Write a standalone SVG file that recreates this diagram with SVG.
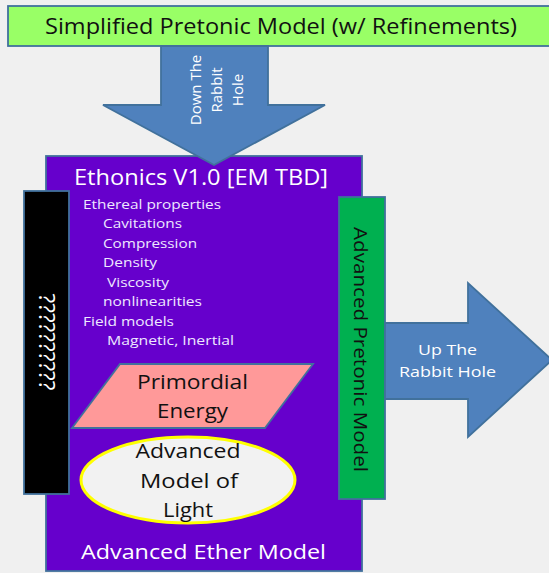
<svg xmlns="http://www.w3.org/2000/svg" width="549" height="573" viewBox="0 0 549 573">
<style>
text{font-family:"Open Sans","Liberation Sans",sans-serif}
.outline{stroke:#41719C;stroke-width:1.8}
.white{fill:#ffffff}
.list{fill:#EEE8FF;font-size:13px}
.dark{fill:#111111}
.arrow{fill:#4F81BD;stroke:#41719C;stroke-width:1.8}
</style>
<rect id="background" x="0" y="0" width="549" height="573" fill="#F0F0F0"/>
<g id="simplified-pretonic-model">
<rect class="outline" x="8" y="6" width="546" height="40" fill="#99FF66"/>
<text class="dark" x="281" y="34" font-size="22" text-anchor="middle" textLength="472" lengthAdjust="spacingAndGlyphs">Simplified Pretonic Model (w/ Refinements)</text>
</g>
<g id="advanced-ether-model">
<rect class="outline" x="46" y="156" width="316" height="415" fill="#6600CC"/>
<text class="white" x="201" y="185" font-size="22" text-anchor="middle" textLength="254" lengthAdjust="spacingAndGlyphs">Ethonics V1.0 [EM TBD]</text>
<text class="list" x="83" y="209" textLength="138" lengthAdjust="spacingAndGlyphs">Ethereal properties</text>
<text class="list" x="103" y="228" textLength="79" lengthAdjust="spacingAndGlyphs">Cavitations</text>
<text class="list" x="103" y="248" textLength="94" lengthAdjust="spacingAndGlyphs">Compression</text>
<text class="list" x="103" y="267" textLength="54" lengthAdjust="spacingAndGlyphs">Density</text>
<text class="list" x="107" y="287" textLength="62" lengthAdjust="spacingAndGlyphs">Viscosity</text>
<text class="list" x="103" y="306" textLength="99" lengthAdjust="spacingAndGlyphs">nonlinearities</text>
<text class="list" x="83" y="326" textLength="91" lengthAdjust="spacingAndGlyphs">Field models</text>
<text class="list" x="107" y="345" textLength="127" lengthAdjust="spacingAndGlyphs">Magnetic, Inertial</text>
<text class="white" x="203.5" y="559" font-size="20" text-anchor="middle" textLength="245" lengthAdjust="spacingAndGlyphs">Advanced Ether Model</text>
</g>
<g id="unknowns">
<rect class="outline" x="24" y="191" width="45" height="303" fill="#000000"/>
<text class="white" transform="translate(38.5,342) rotate(90)" x="0" y="0" font-size="22" text-anchor="middle" textLength="97" lengthAdjust="spacingAndGlyphs">??????????</text>
</g>
<g id="advanced-pretonic-model">
<rect class="outline" x="339" y="197" width="46" height="302" fill="#00B050"/>
<text class="dark" transform="translate(354,349.5) rotate(90)" x="0" y="0" font-size="19" text-anchor="middle" textLength="245" lengthAdjust="spacingAndGlyphs">Advanced Pretonic Model</text>
</g>
<g id="primordial-energy">
<polygon class="outline" points="120,364 313,364 265,428 72,428" fill="#FF9999"/>
<text class="dark" x="192.5" y="389" font-size="20" text-anchor="middle" textLength="111" lengthAdjust="spacingAndGlyphs">Primordial</text>
<text class="dark" x="192.5" y="418" font-size="20" text-anchor="middle" textLength="71" lengthAdjust="spacingAndGlyphs">Energy</text>
</g>
<g id="advanced-model-of-light">
<ellipse cx="188" cy="480" rx="107" ry="43" fill="#F2F2F2" stroke="#FFFF00" stroke-width="3"/>
<text class="dark" x="188" y="458" font-size="20" text-anchor="middle" textLength="105" lengthAdjust="spacingAndGlyphs">Advanced</text>
<text class="dark" x="189" y="488" font-size="20" text-anchor="middle" textLength="98" lengthAdjust="spacingAndGlyphs">Model of</text>
<text class="dark" x="188" y="517" font-size="20" text-anchor="middle" textLength="50" lengthAdjust="spacingAndGlyphs">Light</text>
</g>
<g id="connectors">
<g id="down-the-rabbit-hole">
<polygon class="arrow" points="161,46 268,46 268,105 325,105 214,165 103,105 161,105"/>
<text class="white" transform="translate(200.5,90) rotate(-90)" font-size="15" text-anchor="middle">Down The</text>
<text class="white" transform="translate(221.5,90) rotate(-90)" font-size="15" text-anchor="middle">Rabbit</text>
<text class="white" transform="translate(242.5,90) rotate(-90)" font-size="15" text-anchor="middle">Hole</text>
</g>
<g id="up-the-rabbit-hole">
<polygon class="arrow" points="385,323 468,323 468,283 552,360 468,437 468,399 385,399"/>
<text class="white" x="447.5" y="355" font-size="15" text-anchor="middle" textLength="59" lengthAdjust="spacingAndGlyphs">Up The</text>
<text class="white" x="447.5" y="377" font-size="15" text-anchor="middle" textLength="97" lengthAdjust="spacingAndGlyphs">Rabbit Hole</text>
</g>
</g>
</svg>
